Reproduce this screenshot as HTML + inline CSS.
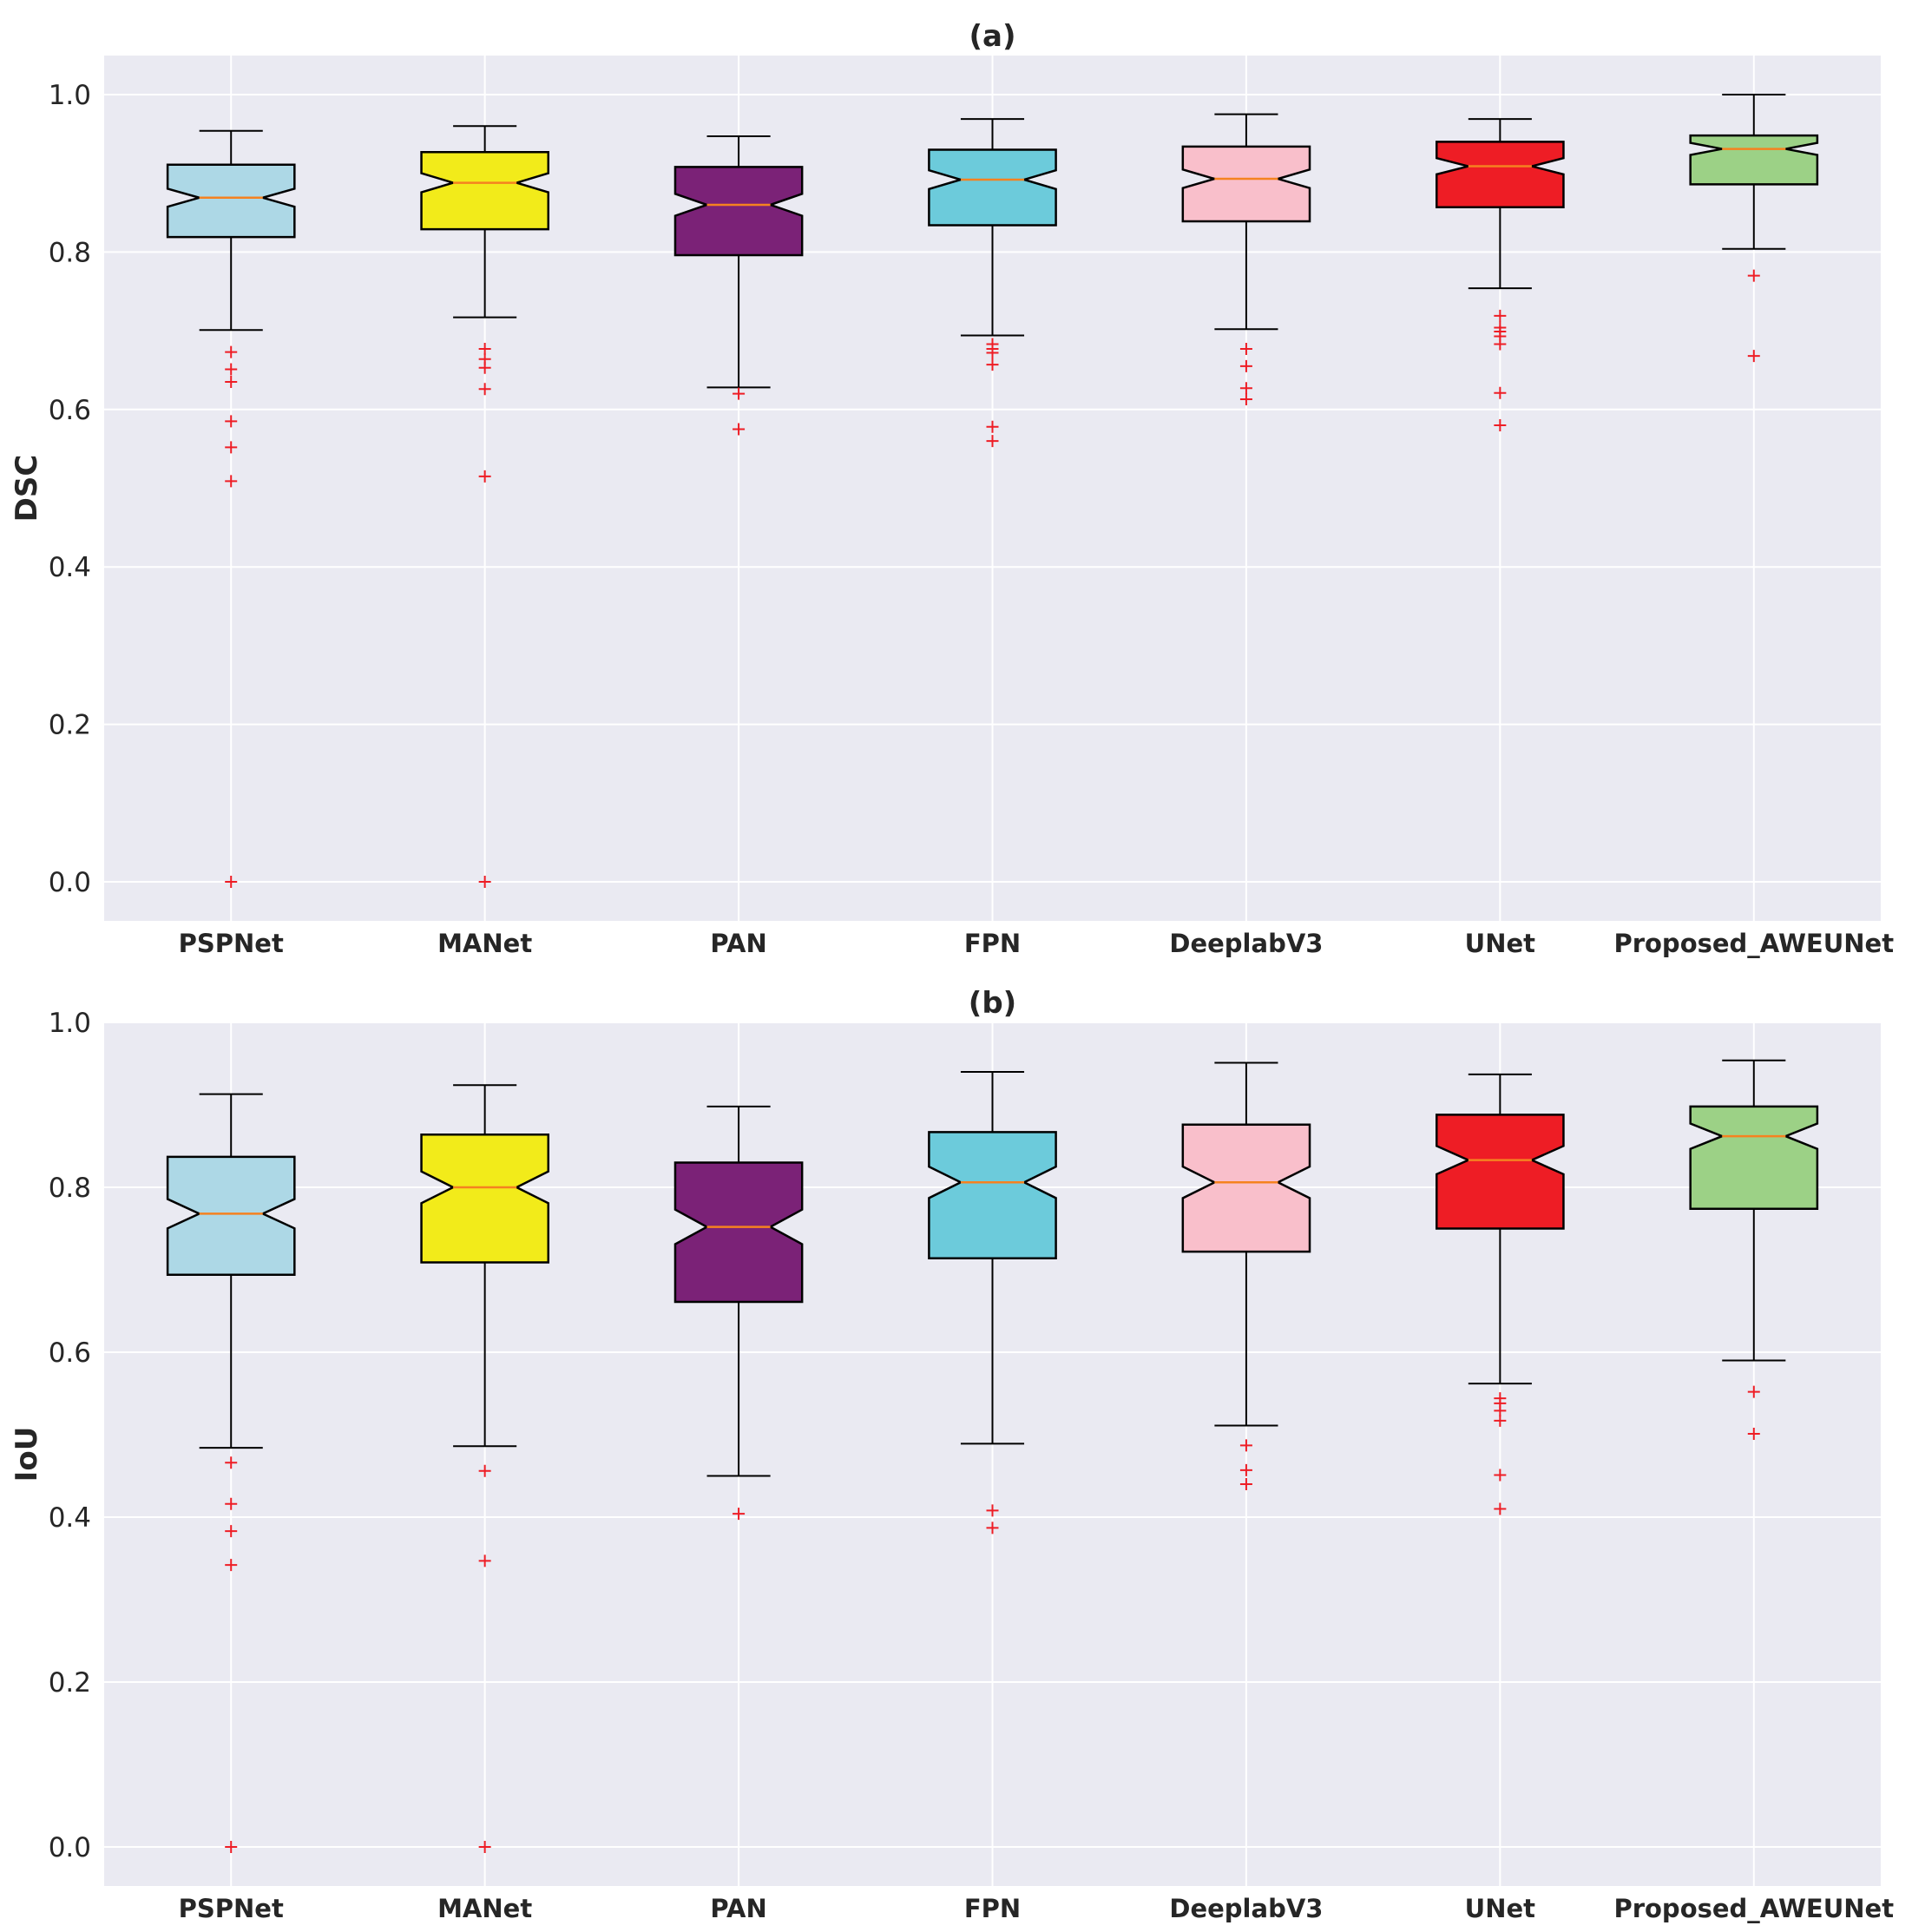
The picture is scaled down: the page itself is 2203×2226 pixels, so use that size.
<!DOCTYPE html>
<html><head><meta charset="utf-8">
<style>
html,body{margin:0;padding:0;background:#fff;}
svg{display:block;font-family:"DejaVu Sans","Liberation Sans",sans-serif;}
</style></head>
<body>
<svg id="fig" width="2203" height="2226" viewBox="0 0 2203 2226" xmlns="http://www.w3.org/2000/svg"></svg>
<script>
const categories = ["PSPNet","MANet","PAN","FPN","DeeplabV3","UNet","Proposed_AWEUNet"];
const colors = ["#add8e6","#f2eb1a","#7b2277","#6ccbdb","#f9bfcb","#ee1d25","#9cd186"];
const sampleCount = 160;
const yTicks = [0.0,0.2,0.4,0.6,0.8,1.0];
const yTickLabels = ["0.0","0.2","0.4","0.6","0.8","1.0"];

const dscWhiskerLow  = [0.701,0.717,0.628,0.694,0.702,0.754,0.804];
const dscQ1          = [0.819,0.829,0.796,0.834,0.839,0.857,0.886];
const dscMedian      = [0.869,0.888,0.860,0.892,0.893,0.909,0.931];
const dscQ3          = [0.911,0.927,0.908,0.930,0.934,0.940,0.948];
const dscWhiskerHigh = [0.954,0.960,0.947,0.969,0.975,0.969,1.000];
const dscOutliers = [
  [0.673,0.651,0.635,0.585,0.552,0.509,0.0],
  [0.677,0.664,0.653,0.626,0.515,0.0],
  [0.620,0.575],
  [0.683,0.677,0.672,0.657,0.578,0.560],
  [0.677,0.655,0.627,0.613],
  [0.719,0.704,0.699,0.693,0.683,0.621,0.580],
  [0.770,0.668]
];

const iouWhiskerLow  = [0.484,0.486,0.450,0.489,0.511,0.562,0.590];
const iouQ1          = [0.694,0.709,0.661,0.714,0.722,0.750,0.774];
const iouMedian      = [0.768,0.800,0.752,0.806,0.806,0.833,0.862];
const iouQ3          = [0.837,0.864,0.830,0.867,0.876,0.888,0.898];
const iouWhiskerHigh = [0.913,0.924,0.898,0.940,0.951,0.937,0.954];
const iouOutliers = [
  [0.466,0.416,0.383,0.342,0.0],
  [0.456,0.347,0.0],
  [0.404],
  [0.408,0.387],
  [0.487,0.457,0.440],
  [0.544,0.538,0.529,0.517,0.451,0.410],
  [0.552,0.501]
];

const NS = "http://www.w3.org/2000/svg";
const svg = document.getElementById('fig');
function mk(tag, attrs, parent){
  const e = document.createElementNS(NS, tag);
  for (const k in attrs) e.setAttribute(k, attrs[k]);
  (parent||svg).appendChild(e);
  return e;
}

function panel(opts){
  const L=120, R=2167, T=opts.top, B=opts.bottom;
  const ymin=opts.ymin, ymax=opts.ymax;
  const y = v => B - (v - ymin) / (ymax - ymin) * (B - T);
  const step = (R - L) / categories.length;
  const x = i => L + step * (i + 0.5);
  const g = mk('g', {});
  
  
  const bg = mk('rect', {x:L, y:T, width:R-L, height:B-T, fill:'#eaeaf2'}, g);
  
  
  yTicks.forEach((t, k) => {
    const gl = mk('line', {x1:L, x2:R, y1:y(t), y2:y(t), stroke:'#fff', 'stroke-width':2}, g);
    
    
    const tl = mk('text', {x:105, y:y(t)+11, 'text-anchor':'end', 'font-size':31, fill:'#262626'}, g);
    tl.textContent = yTickLabels[k];
    
    
  });
  categories.forEach((c, i) => {
    const gl = mk('line', {x1:x(i), x2:x(i), y1:T, y2:B, stroke:'#fff', 'stroke-width':2}, g);
    
    
    const tl = mk('text', {x:x(i), y:B+36, 'text-anchor':'middle', 'font-size':29, 'font-weight':'bold', fill:'#262626'}, g);
    tl.textContent = c;
    
    
  });
  const d = opts.data;
  categories.forEach((c, i) => {
    const cx = x(i), hw = step * 0.25, cw = step * 0.125;
    const q1 = d.q1[i], q3 = d.q3[i], med = d.med[i];
    const notch = 1.57 * (q3 - q1) / Math.sqrt(sampleCount);
    const wl = mk('line', {x1:cx, x2:cx, y1:y(d.lo[i]), y2:y(q1), stroke:'#000', 'stroke-width':2}, g);
    
    
    const wh = mk('line', {x1:cx, x2:cx, y1:y(d.hi[i]), y2:y(q3), stroke:'#000', 'stroke-width':2}, g);
    
    
    const cl = mk('line', {x1:cx-cw, x2:cx+cw, y1:y(d.lo[i]), y2:y(d.lo[i]), stroke:'#000', 'stroke-width':2}, g);
    
    
    const ch = mk('line', {x1:cx-cw, x2:cx+cw, y1:y(d.hi[i]), y2:y(d.hi[i]), stroke:'#000', 'stroke-width':2}, g);
    
    
    const pts = [
      [cx-hw, y(q1)], [cx-hw, y(med-notch)], [cx-hw/2, y(med)], [cx-hw, y(med+notch)],
      [cx-hw, y(q3)], [cx+hw, y(q3)], [cx+hw, y(med+notch)], [cx+hw/2, y(med)],
      [cx+hw, y(med-notch)], [cx+hw, y(q1)]
    ].map(p => p.join(',')).join(' ');
    const box = mk('polygon', {points:pts, fill:colors[i], stroke:'#000', 'stroke-width':2.5}, g);
    
    
    const ml = mk('line', {x1:cx-hw/2, x2:cx+hw/2, y1:y(med), y2:y(med), stroke:'#f58220', 'stroke-width':2.5}, g);
    
    
    d.out[i].forEach(v => {
      const o = mk('path', {d:`M${cx-7},${y(v)}H${cx+7}M${cx},${y(v)-7}V${y(v)+7}`, stroke:'#ee1d25', 'stroke-width':2, fill:'none'}, g);
      
      
    });
  });
  const ttl = mk('text', {x:(L+R)/2, y:opts.titleY, 'text-anchor':'middle', 'font-size':34, 'font-weight':'bold', fill:'#262626'}, g);
  ttl.textContent = opts.title;
  
  
  const cy = (T + B) / 2;
  const yl = mk('text', {x:0, y:0, transform:`translate(42,${cy}) rotate(-90)`, 'text-anchor':'middle', 'font-size':34, 'font-weight':'bold', fill:'#262626'}, g);
  yl.textContent = opts.ylabel;
  
  
}

panel({name:'dsc-panel', title:'(a)', ylabel:'DSC', top:64, bottom:1061, ymin:-0.0496, ymax:1.0496, titleY:53,
  data:{lo:dscWhiskerLow, q1:dscQ1, med:dscMedian, q3:dscQ3, hi:dscWhiskerHigh, out:dscOutliers}});
panel({name:'iou-panel', title:'(b)', ylabel:'IoU', top:1178, bottom:2173, ymin:-0.0474, ymax:1.0, titleY:1167,
  data:{lo:iouWhiskerLow, q1:iouQ1, med:iouMedian, q3:iouQ3, hi:iouWhiskerHigh, out:iouOutliers}});
</script>
</body></html>
